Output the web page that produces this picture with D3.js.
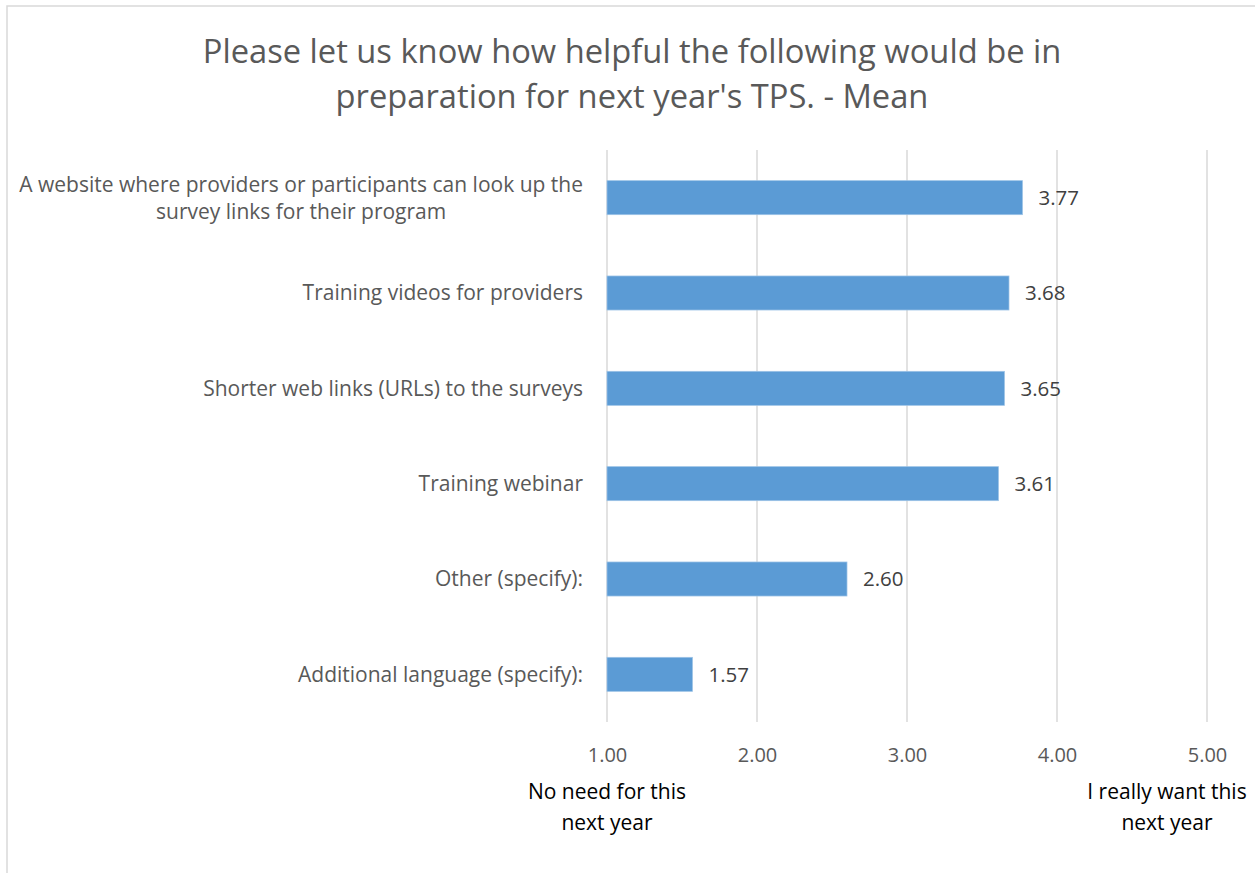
<!DOCTYPE html>
<html>
<head>
<meta charset="utf-8">
<script src="https://cdn.jsdelivr.net/npm/d3@7"></script>
<style>
  html, body { margin: 0; padding: 0; background: #fff; }
  svg { display: block; font-family: "Open Sans", sans-serif; }
</style>
</head>
<body>
<svg id="chart" width="1255" height="873"></svg>
<script>
// Survey items (top to bottom) and their mean ratings
const categories = [
  ["A website where providers or participants can look up the", "survey links for their program"],
  ["Training videos for providers"],
  ["Shorter web links (URLs) to the surveys"],
  ["Training webinar"],
  ["Other (specify):"],
  ["Additional language (specify):"]
];
const means = [3.77, 3.68, 3.65, 3.61, 2.60, 1.57];
const tickValues = [1, 2, 3, 4, 5];
const titleLines = ["Please let us know how helpful the following would be in",
                    "preparation for next year's TPS. - Mean"];
const scaleEndLabels = [
  { value: 1, lines: ["No need for this", "next year"], offset: 0 },
  { value: 5, lines: ["I really want this", "next year"], offset: -40 }
];

const svg = d3.select("#chart");
const W = 1255;

// Chart frame
svg.append("rect")
  .attr("x", 7).attr("y", 6)
  .attr("width", W + 20).attr("height", 900)
  .attr("fill", "#fff").attr("stroke", "#d9d9d9").attr("stroke-width", 1.5);

const plot = { left: 607, right: 1207, top: 150, bottom: 722 };

const x = d3.scaleLinear().domain([1, 5]).range([plot.left, plot.right]);
const y = d3.scaleBand()
  .domain(d3.range(categories.length))
  .range([plot.top, plot.bottom])
  .paddingInner(0.643).paddingOuter(0.3215);

// Title
svg.append("g").selectAll("text")
  .data(titleLines).join("text")
  .attr("x", 632).attr("y", (d, i) => 52 + i * 45)
  .attr("dy", "0.35em")
  .attr("text-anchor", "middle")
  .attr("fill", "#595959")
  .style("font-size", "32.7px")
  .text(d => d);

// Vertical gridlines
svg.append("g").selectAll("line")
  .data(tickValues).join("line")
  .attr("x1", d => x(d)).attr("x2", d => x(d))
  .attr("y1", plot.top).attr("y2", plot.bottom)
  .attr("stroke", "#d9d9d9").attr("stroke-width", 1.5);

// Bars
svg.append("g").selectAll("rect")
  .data(means).join("rect")
  .attr("x", x(1))
  .attr("y", (d, i) => y(i))
  .attr("width", d => x(d) - x(1))
  .attr("height", y.bandwidth())
  .attr("fill", "#5b9bd5")
  .attr("stroke", "#9dc3e6").attr("stroke-width", 0.75);

// Value labels
svg.append("g").selectAll("text")
  .data(means).join("text")
  .attr("x", d => x(d) + 16)
  .attr("y", (d, i) => y(i) + y.bandwidth() / 2)
  .attr("dy", "0.35em")
  .attr("fill", "#404040")
  .style("font-size", "20.5px")
  .text(d => d.toFixed(2));

// Category labels (multi-line block, centred within itself, right edge at axis)
const catG = svg.append("g");
categories.forEach((lines, i) => {
  const cy = y(i) + y.bandwidth() / 2;
  const lh = 27;
  const t = catG.append("text")
    .attr("fill", "#595959")
    .style("font-size", "21px")
    .attr("text-anchor", "end");
  lines.forEach((ln, j) => {
    t.append("tspan")
      .attr("x", 583)
      .attr("y", cy + (j - (lines.length - 1) / 2) * lh)
      .attr("dy", "0.35em")
      .text(ln);
  });
  if (lines.length > 1) {
    // centre the shorter lines under the widest one
    const spans = t.selectAll("tspan").nodes();
    const widths = spans.map(s => s.getComputedTextLength());
    const maxW = d3.max(widths);
    spans.forEach((s, j) => {
      d3.select(s).attr("x", 583 - (maxW - widths[j]) / 2);
    });
  }
});

// X-axis tick labels
const xAxis = d3.axisBottom(x)
  .tickValues(tickValues)
  .tickFormat(d3.format(".2f"))
  .tickSize(0).tickPadding(0);
const axG = svg.append("g")
  .attr("transform", `translate(0, ${plot.bottom + 26})`)
  .call(xAxis);
axG.select(".domain").remove();
axG.selectAll("text")
  .attr("fill", "#595959")
  .style("font-size", "20px")
  .style("font-family", "'Open Sans', sans-serif");

// Scale end descriptions
const endG = svg.append("g");
scaleEndLabels.forEach(lbl => {
  lbl.lines.forEach((ln, j) => {
    endG.append("text")
      .attr("x", x(lbl.value) + lbl.offset)
      .attr("y", 792 + j * 31)
      .attr("dy", "0.35em")
      .attr("text-anchor", "middle")
      .attr("fill", "#000")
      .style("font-size", "21px")
      .text(ln);
  });
});
</script>
</body>
</html>
